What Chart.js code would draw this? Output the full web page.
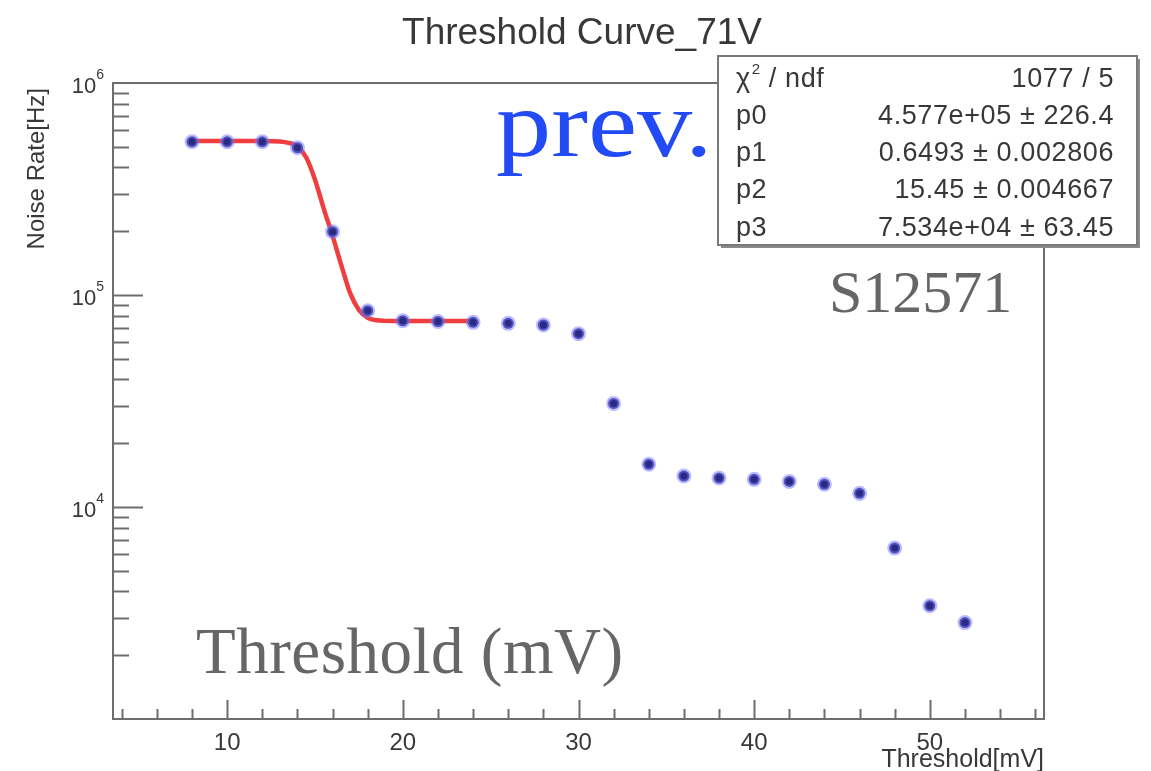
<!DOCTYPE html>
<html>
<head>
<meta charset="utf-8">
<script src="https://cdn.jsdelivr.net/npm/chart.js@4.4.0/dist/chart.umd.min.js"></script>
<style>
html,body{margin:0;padding:0;background:#fff;}
#wrap{width:1151px;height:771px;position:relative;}
</style>
</head>
<body>
<div id="wrap"><canvas id="c" width="1151" height="771"></canvas></div>
<script>
// ---- data ----
const thresholds = [8,10,12,14,16,18,20,22,24,26,28,30,32,34,36,38,40,42,44,46,48,50,52];
const noiseRate  = [5.28e5,5.28e5,5.28e5,4.95e5,1.99e5,8.43e4,7.56e4,7.5e4,7.43e4,7.35e4,7.22e4,6.57e4,3.08e4,1.59e4,1.40e4,1.37e4,1.35e4,1.32e4,1.28e4,1.16e4,6.40e3,3.42e3,2.85e3];
const fitX = [8,10,12,13,13.5,14,14.5,15,15.5,16,16.5,17,17.5,18,18.5,19,20,22,24];
const fitY = [5.33e5,5.33e5,5.33e5,5.3e5,5.22e5,5.02e5,4.45e5,3.5e5,2.55e5,1.9e5,1.38e5,1.02e5,8.5e4,7.8e4,7.6e4,7.55e4,7.53e4,7.53e4,7.53e4];
const xTickLabels = [10,20,30,40,50];
const yTickValues = [1e4,1e5,1e6];
const yTickExponents = ['4','5','6'];
const titleText = 'Threshold Curve_71V';
const xTitle = 'Threshold[mV]';
const yTitle = 'Noise Rate[Hz]';
const statNames = ['p0','p1','p2','p3'];
const statValues = ['4.577e+05 \u00b1 226.4','0.6493 \u00b1 0.002806','15.45 \u00b1 0.004667','7.534e+04 \u00b1 63.45'];
const chiValue = '1077 / 5';

const SANS = "'Liberation Sans', Arial, Helvetica, sans-serif";
const SERIF = "'Liberation Serif', 'Times New Roman', serif";
const TXT = '#383838';
const AX = '#6e6e6e';

const deco = {
  id: 'rootDeco',
  afterDraw(chart) {
    const ctx = chart.ctx;
    const a = chart.chartArea;
    const xs = chart.scales.x, ys = chart.scales.y;
    ctx.save();
    // frame
    ctx.strokeStyle = AX; ctx.lineWidth = 2;
    ctx.strokeRect(a.left, a.top, a.right - a.left, a.bottom - a.top);
    // x ticks
    ctx.beginPath();
    for (let v = 4; v <= 56; v += 2) {
      const px = Math.round(xs.getPixelForValue(v)) + 0.5;
      const len = (v % 10 === 0) ? 19 : 10;
      ctx.moveTo(px, a.bottom); ctx.lineTo(px, a.bottom - len);
    }
    // y ticks (log)
    for (let d = 3; d < 6; d++) {
      for (let m = 1; m <= 9; m++) {
        if (d === 3 && m === 1) continue;
        const v = m * Math.pow(10, d);
        const py = Math.round(ys.getPixelForValue(v)) + 0.5;
        const len = (m === 1) ? 30 : 16;
        ctx.moveTo(a.left, py); ctx.lineTo(a.left + len, py);
      }
    }
    ctx.stroke();
    // x tick labels
    ctx.fillStyle = TXT;
    ctx.font = '24px ' + SANS;
    ctx.textAlign = 'center'; ctx.textBaseline = 'alphabetic';
    xTickLabels.forEach(v => {
      ctx.fillText(String(v), xs.getPixelForValue(v), 750);
    });
    // y tick labels 10^n
    yTickValues.forEach((v, i) => {
      const py = ys.getPixelForValue(v);
      ctx.font = '14px ' + SANS;
      const ew = ctx.measureText(yTickExponents[i]).width;
      const right = 104;
      ctx.textAlign = 'left';
      ctx.fillText(yTickExponents[i], right - ew, py - 4);
      ctx.font = '22px ' + SANS;
      ctx.textAlign = 'right';
      ctx.fillText('10', right - ew, py + 10);
    });
    // axis titles
    ctx.font = '25px ' + SANS;
    ctx.textAlign = 'right';
    ctx.fillText(xTitle, a.right, 767);
    ctx.save();
    ctx.translate(44, 88);
    ctx.rotate(-Math.PI / 2);
    ctx.textAlign = 'right';
    ctx.font = '24px ' + SANS;
    ctx.fillText(yTitle, 0, 0);
    ctx.restore();
    // title
    ctx.font = '37px ' + SANS;
    ctx.textAlign = 'center';
    ctx.fillText(titleText, 582, 44);
    // overlays
    ctx.save();
    ctx.fillStyle = 'rgb(35,75,245)';
    ctx.font = '96px ' + SERIF;
    ctx.textAlign = 'left';
    ctx.translate(496, 156);
    ctx.scale(1.15, 1);
    ctx.fillText('prev.', 0, 0);
    ctx.restore();
    ctx.textAlign = 'left';
    ctx.fillStyle = '#666666';
    ctx.font = '60px ' + SERIF;
    ctx.fillText('S12571', 829, 312);
    ctx.letterSpacing = '0.5px';
    ctx.font = '65px ' + SERIF;
    ctx.fillText('Threshold (mV)', 196, 673);
    ctx.letterSpacing = '0px';
    // stat box
    const bx = 718, by = 56, bw = 419, bh = 189;
    ctx.fillStyle = '#8a8a8a';
    ctx.fillRect(bx + 3, by + 3, bw, bh);
    ctx.fillStyle = '#ffffff';
    ctx.fillRect(bx, by, bw, bh);
    ctx.strokeStyle = '#7a7a7a'; ctx.lineWidth = 2;
    ctx.strokeRect(bx, by, bw, bh);
    ctx.fillStyle = TXT;
    const rows = [87, 124, 161, 198, 236];
    ctx.letterSpacing = '0.6px';
    ctx.textAlign = 'left';
    ctx.font = '27px ' + SANS;
    ctx.fillText('\u03c7', 736, rows[0]);
    let w = ctx.measureText('\u03c7').width;
    ctx.font = '15px ' + SANS;
    ctx.fillText('2', 736 + w + 1, rows[0] - 13);
    const w2 = ctx.measureText('2').width;
    ctx.font = '27px ' + SANS;
    ctx.fillText(' / ndf', 736 + w + w2 + 1, rows[0]);
    ctx.textAlign = 'right';
    ctx.fillText(chiValue, 1114, rows[0]);
    statNames.forEach((n, i) => {
      ctx.textAlign = 'left';
      ctx.fillText(n, 736, rows[i + 1]);
      ctx.textAlign = 'right';
      ctx.fillText(statValues[i], 1114, rows[i + 1]);
    });
    ctx.restore();
  }
};

new Chart(document.getElementById('c'), {
  type: 'scatter',
  data: {
    datasets: [
      {
        label: 'Noise Rate',
        data: thresholds.map((x, i) => ({x: x, y: noiseRate[i]})),
        showLine: false,
        pointRadius: 5.5,
        pointBackgroundColor: '#2a2a80',
        pointBorderColor: 'rgba(120,120,255,0.5)',
        pointBorderWidth: 4
      },
      {
        label: 'Fit',
        data: fitX.map((x, i) => ({x: x, y: fitY[i]})),
        showLine: true,
        pointRadius: 0,
        borderColor: 'rgb(240,62,62)',
        borderWidth: 4.5,
        cubicInterpolationMode: 'monotone',
        fill: false
      }
    ]
  },
  options: {
    responsive: false,
    animation: false,
    events: [],
    layout: { padding: { left: 113, top: 83, right: 107, bottom: 52 } },
    plugins: { legend: { display: false }, tooltip: { enabled: false }, title: { display: false } },
    scales: {
      x: { type: 'linear', min: 3.5, max: 56.5, display: false },
      y: { type: 'logarithmic', min: 1e3, max: 1e6, display: false }
    }
  },
  plugins: [deco]
});
</script>
</body>
</html>
